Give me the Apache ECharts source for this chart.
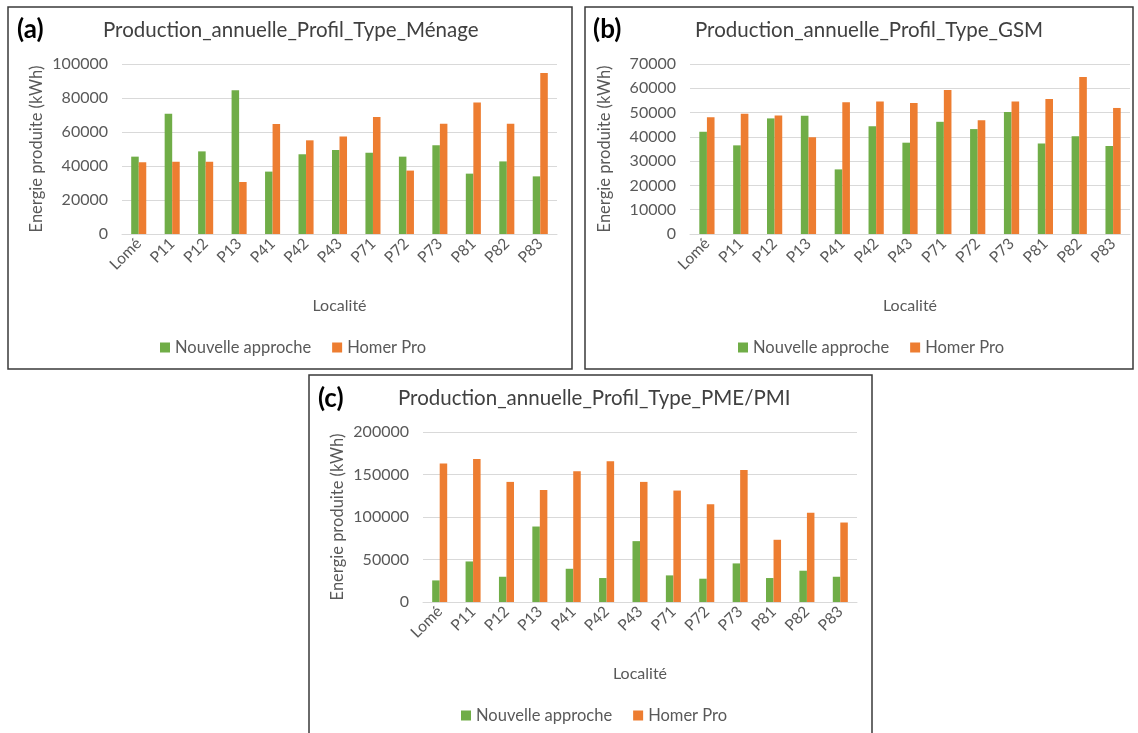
<!DOCTYPE html>
<html>
<head>
<meta charset="utf-8">
<script src="https://cdn.jsdelivr.net/npm/echarts@6/dist/echarts.min.js"></script>
<style>
html,body{margin:0;padding:0;background:#fff;}
#chart{width:1138px;height:733px;}
</style>
</head>
<body>
<div id="chart"></div>
<script>
const categories = ['Lomé','P11','P12','P13','P41','P42','P43','P71','P72','P73','P81','P82','P83'];
const seriesNames = ['Nouvelle approche','Homer Pro'];
const menageNouvelle = [45500, 70800, 48600, 84500, 36700, 46900, 49400, 47800, 45500, 52200, 35500, 42700, 33900];
const menageHomer = [42200, 42500, 42500, 30600, 64700, 55100, 57300, 68800, 37300, 64900, 77300, 64900, 94700];
const gsmNouvelle = [42100, 36500, 47600, 48700, 26600, 44400, 37600, 46200, 43200, 50200, 37300, 40200, 36200];
const gsmHomer = [48100, 49500, 48800, 39800, 54300, 54600, 53900, 59300, 46800, 54600, 55600, 64600, 51900];
const pmeNouvelle = [25400, 47700, 29700, 88800, 39100, 28200, 71600, 31300, 27400, 45400, 28200, 36800, 29700];
const pmeHomer = [162800, 168300, 141300, 131900, 153800, 165600, 141300, 131100, 115100, 155400, 73200, 104900, 93500];
const panelLetters = ['(a)','(b)','(c)'];
const panelTitles = ['Production_annuelle_Profil_Type_Ménage','Production_annuelle_Profil_Type_GSM','Production_annuelle_Profil_Type_PME/PMI'];
const yMax = [100000, 70000, 200000];
const yInterval = [20000, 10000, 50000];
const xAxisName = 'Localité';
const yAxisName = 'Energie produite (kWh)';

const FONT = 'Lato, "Open Sans", sans-serif';
const GREEN = '#70AD47', ORANGE = '#ED7D31';
const TXT = '#595959';

const panels = [
  {box:[8,7,564,362], grid:{left:122, top:64, width:435, height:170}, letter:[17,17], title:[103,20], legend:[160,339], data:[menageNouvelle, menageHomer]},
  {box:[585,7,548,362], grid:{left:690, top:64, width:440, height:170}, letter:[593,17], title:[695,20], legend:[738,339], data:[gsmNouvelle, gsmHomer]},
  {box:[309,375,563,370], grid:{left:423, top:432, width:434, height:170}, letter:[318,386], title:[398,388], legend:[461,707], data:[pmeNouvelle, pmeHomer]}
];

const chart = echarts.init(document.getElementById('chart'), null, {renderer:'canvas'});
const option = {
  backgroundColor:'#fff',
  animation:false,
  title:[], legend:[], grid:[], xAxis:[], yAxis:[], series:[], graphic:[]
};
panels.forEach((p, i) => {
  option.graphic.push({type:'rect', shape:{x:p.box[0], y:p.box[1], width:p.box[2], height:p.box[3]}, style:{fill:'none', stroke:'#3a3a3a', lineWidth:1.5}, z:0});
  option.title.push({text:panelLetters[i], left:p.letter[0], top:p.letter[1], padding:0, textStyle:{fontFamily:FONT, fontSize:26, fontWeight:'bold', color:'#000'}});
  option.title.push({text:panelTitles[i], left:p.title[0], top:p.title[1], padding:0, textStyle:{fontFamily:FONT, fontSize:20.5, fontWeight:'normal', color:'#404040'}});
  option.legend.push({data:seriesNames, left:p.legend[0], top:p.legend[1], padding:0, itemWidth:10, itemHeight:10, itemGap:21, icon:'rect', textStyle:{fontFamily:FONT, fontSize:16.5, color:TXT, padding:[0,0,0,0]}});
  option.grid.push(Object.assign({containLabel:false}, p.grid));
  option.xAxis.push({type:'category', gridIndex:i, data:categories, name:xAxisName, nameLocation:'middle', nameGap:64,
    nameTextStyle:{fontFamily:FONT, fontSize:16, color:TXT},
    axisLine:{lineStyle:{color:'#D9D9D9', width:1}}, axisTick:{show:false},
    axisLabel:{rotate:45, interval:0, fontFamily:FONT, fontSize:15.5, color:TXT, margin:7}});
  option.yAxis.push({type:'value', gridIndex:i, min:0, max:yMax[i], interval:yInterval[i], name:yAxisName, nameLocation:'middle', nameGap:77,
    nameTextStyle:{fontFamily:FONT, fontSize:16.5, color:TXT},
    axisLine:{show:false}, axisTick:{show:false},
    splitLine:{lineStyle:{color:'#D9D9D9', width:1}},
    axisLabel:{fontFamily:FONT, fontSize:16, color:TXT, margin:14, formatter:(v) => String(v)}});
  option.series.push({type:'bar', name:seriesNames[0], xAxisIndex:i, yAxisIndex:i, data:p.data[0], itemStyle:{color:GREEN}, barGap:'0%', barCategoryGap:'55%'});
  option.series.push({type:'bar', name:seriesNames[1], xAxisIndex:i, yAxisIndex:i, data:p.data[1], itemStyle:{color:ORANGE}, barGap:'0%', barCategoryGap:'55%'});
});
chart.setOption(option);
</script>
</body>
</html>
